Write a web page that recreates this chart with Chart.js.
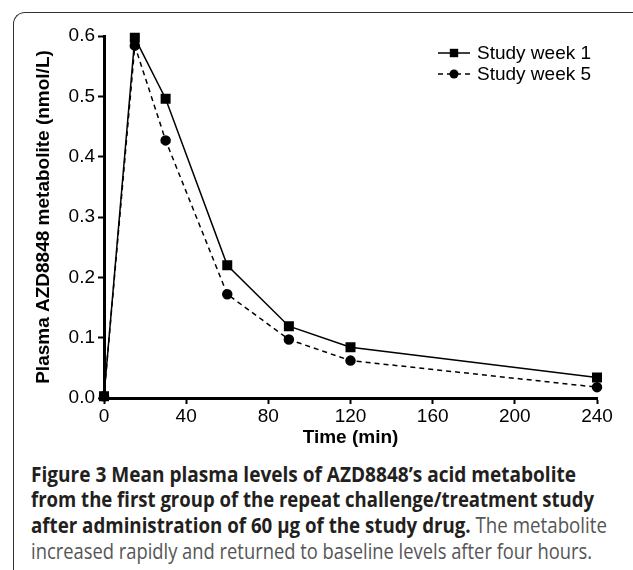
<!DOCTYPE html>
<html>
<head>
<meta charset="utf-8">
<script src="https://cdn.jsdelivr.net/npm/chart.js@4.4.0/dist/chart.umd.min.js"></script>
<style>
  html, body { margin: 0; padding: 0; background: #fff; width: 633px; height: 570px; overflow: hidden; }
  #frame { position: absolute; left: 13px; top: 12px; width: 700px; height: 700px;
           border-left: 1.6px solid #333; border-top: 1.6px solid #333; border-top-left-radius: 12px; }
  #wrap { position: absolute; left: 0; top: 0; width: 633px; height: 450px; }
  .cap { position: absolute; left: 31px; height: 26px; line-height: 26px; white-space: nowrap;
         font-family: "Open Sans", sans-serif; font-size: 21px; color: #555; transform-origin: 0 50%; }
  .cap b { color: #231f20; font-weight: 700; }
</style>
</head>
<body>
<div id="frame"></div>
<div id="wrap"><canvas id="chartPk"></canvas></div>
<div class="cap" data-end="576" style="top:461px"><b>Figure 3 Mean plasma levels of AZD8848’s acid metabolite</b></div>
<div class="cap" data-end="594" style="top:486px"><b>from the first group of the repeat challenge/treatment study</b></div>
<div class="cap" data-end="607" style="top:512px"><b>after administration of 60 μg of the study drug.</b> The metabolite</div>
<div class="cap" data-end="592" style="top:538px">increased rapidly and returned to baseline levels after four hours.</div>
<script>
// valeurs
const times = [0, 15, 30, 60, 90, 120, 240];
const week1 = [0.003, 0.597, 0.496, 0.220, 0.119, 0.084, 0.034];
const week5 = [0.003, 0.584, 0.427, 0.172, 0.097, 0.062, 0.018];
const seriesLabels = ["Study week 1", "Study week 5"];
const xTicks = [0, 40, 80, 120, 160, 200, 240];
const yTicks = [0, 0.1, 0.2, 0.3, 0.4, 0.5, 0.6];

const FONT = "'Liberation Sans', Arial, sans-serif";

// legende maison : trait + marqueur comme dans la figure
const legendeLignes = {
    id: 'legendeLignes',
    afterDraw(chart) {
        const ctx = chart.ctx;
        chart.data.datasets.forEach((ds, i) => {
            const y = 53 + i * 21;
            ctx.save();
            ctx.strokeStyle = '#000';
            ctx.lineWidth = ds.borderWidth;
            ctx.setLineDash(ds.borderDash || []);
            ctx.beginPath();
            ctx.moveTo(438, y);
            ctx.lineTo(470, y);
            ctx.stroke();
            ctx.setLineDash([]);
            ctx.fillStyle = '#000';
            if (ds.pointStyle === 'rect') {
                ctx.fillRect(454 - 4.2, y - 4.2, 8.4, 8.4);
            } else {
                ctx.beginPath();
                ctx.arc(454, y, 4.5, 0, Math.PI * 2);
                ctx.fill();
            }
            ctx.font = "19px " + FONT;
            ctx.textBaseline = 'middle';
            ctx.fillText(ds.label, 477, y + 1);
            ctx.restore();
        });
    }
};

let ctx = document.querySelector('#chartPk').getContext('2d');
Chart.defaults.color = '#000';
Chart.defaults.font.family = FONT;

var chartPk = new Chart(ctx, {
    type: 'line',
    data: {
        datasets: [{
            label: seriesLabels[0],
            data: times.map((t, i) => ({x: t, y: week1[i]})),
            borderColor: '#000',
            backgroundColor: '#000',
            borderWidth: 1.5,
            pointStyle: 'rect',
            pointRadius: 6,
            clip: false,
        }, {
            label: seriesLabels[1],
            data: times.map((t, i) => ({x: t, y: week5[i]})),
            borderColor: '#000',
            backgroundColor: '#000',
            borderWidth: 1.5,
            borderDash: [5, 4],
            pointStyle: 'circle',
            pointRadius: 4.5,
            clip: false,
        }]
    },
    options: {
        responsive: true,
        maintainAspectRatio: false,
        animation: false,
        layout: { padding: { left: 0, top: 36, right: 36, bottom: 0 } },
        plugins: { legend: { display: false }, tooltip: { enabled: false } },
        scales: {
            x: {
                type: 'linear',
                min: 0,
                max: 240,
                afterFit: (scale) => { scale.height = 52; },
                afterBuildTicks: (scale) => { scale.ticks = xTicks.map(v => ({value: v})); },
                ticks: { font: { size: 19 }, padding: 1, maxRotation: 0 },
                grid: { drawOnChartArea: false, tickLength: 6, tickWidth: 2, tickColor: '#000' },
                border: { display: true, color: '#000', width: 3 },
                title: { display: true, text: 'Time (min)', font: { size: 19, weight: 'bold' }, padding: { top: 0, bottom: 1 } }
            },
            y: {
                min: 0,
                max: 0.6,
                afterFit: (scale) => { scale.width = 104; },
                afterBuildTicks: (scale) => { scale.ticks = yTicks.map(v => ({value: v})); },
                ticks: { font: { size: 19 }, padding: 3, callback: (v) => v.toFixed(1) },
                grid: { drawOnChartArea: false, tickLength: 6, tickWidth: 2, tickColor: '#000' },
                border: { display: true, color: '#000', width: 3 },
                title: { display: true, text: 'Plasma AZD8848 metabolite (nmol/L)', font: { size: 19, weight: 'bold' }, padding: { top: 32, bottom: 0 } }
            }
        }
    },
    plugins: [legendeLignes]
});

// ajuste la largeur des lignes de la légende de figure
document.querySelectorAll('.cap').forEach((el) => {
    el.style.display = 'inline-block';
    const w = el.getBoundingClientRect().width;
    const cible = parseFloat(el.dataset.end) - 31;
    el.style.transform = 'scaleX(' + (cible / w) + ')';
});
</script>
</body>
</html>
